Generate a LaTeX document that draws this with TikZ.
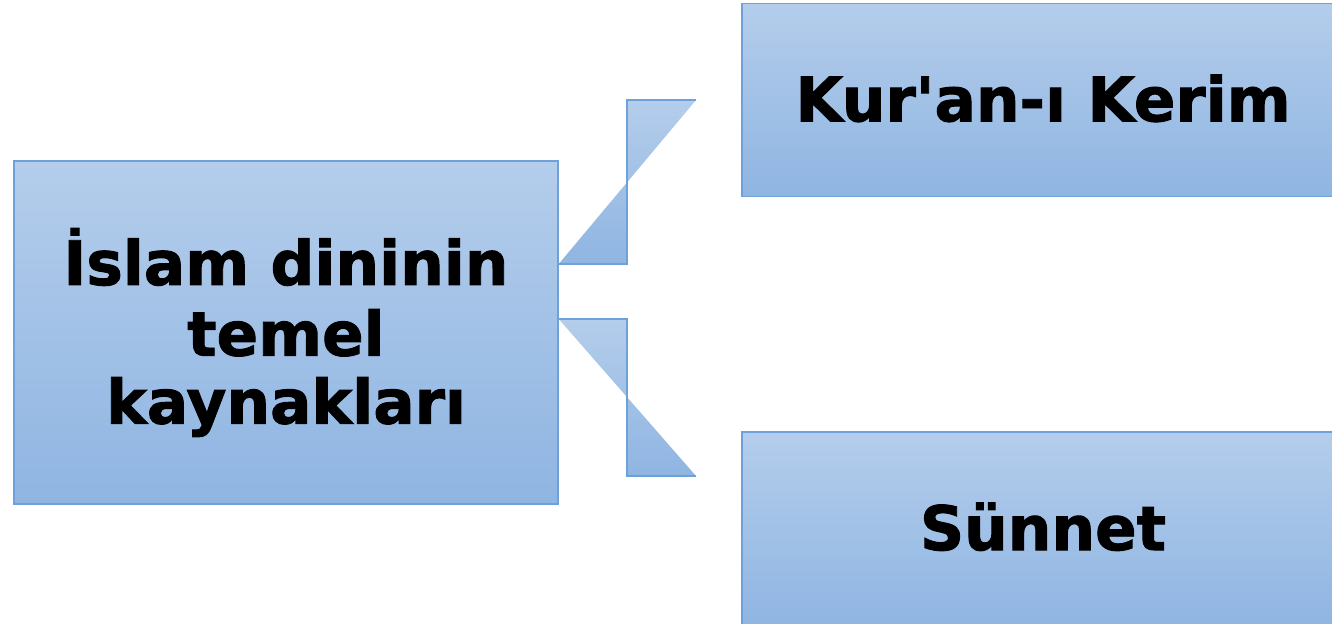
\documentclass[tikz,border=0pt]{standalone}
\usepackage{fontspec}
\setmainfont{DejaVu Sans}[BoldFeatures={FakeBold=1.5}]
\definecolor{boxtop}{RGB}{180,205,235}
\definecolor{boxbot}{RGB}{143,181,226}
\definecolor{boxline}{RGB}{110,160,218}
\tikzset{every picture/.style={line width=1.1pt}}
\tikzset{
  srcbox/.style={draw=boxline, top color=boxtop, bottom color=boxbot, inner sep=0pt, align=center, font=\fontsize{46}{51}\selectfont\bfseries},
  linkfill/.style={top color=boxtop, bottom color=boxbot},
  linkline/.style={draw=boxline}
}
\begin{document}
\begin{tikzpicture}[x=0.75pt,y=0.75pt,yscale=-1,xscale=1]
	\clip (0,0) rectangle (1332,624);
	\fill[white] (0,0) rectangle (1332,624);
	
	% Left box
	\node [srcbox, minimum width=544*0.75pt, minimum height=343*0.75pt] (kaynak) at (286,332.5) {\raisebox{2pt}{İslam dininin}\\temel\\kaynakları};
	% Top right box
	\node [srcbox, minimum width=602*0.75pt, minimum height=193*0.75pt] (kuran) at (1043,100) {\raisebox{3pt}{Kur\textquotesingle an-ı Kerim}};
	% Bottom right box
	\node [srcbox, minimum width=602*0.75pt, minimum height=194*0.75pt] (sunnet) at (1043,529) {\raisebox{4pt}{Sünnet}};
	
	% Connector points
	\coordinate (ua) at (kaynak.east |- 0,264);
	\coordinate (ub) at (627,264);
	\coordinate (uc) at (627,100);
	\coordinate (ud) at (696,100);
	\coordinate (la) at (kaynak.east |- 0,319);
	\coordinate (lb) at (627,319);
	\coordinate (lc) at (627,476);
	\coordinate (ld) at (696,476);
	
	% Upper connector
	\shade [linkfill] (ua) -- (ub) -- (uc) -- (ud) -- cycle;
	\draw [linkline] (ua) -- (ub) -- (uc) -- (ud);
	% Lower connector
	\shade [linkfill] (la) -- (lb) -- (lc) -- (ld) -- cycle;
	\draw [linkline] (la) -- (lb) -- (lc) -- (ld);
	
\end{tikzpicture}
\end{document}
